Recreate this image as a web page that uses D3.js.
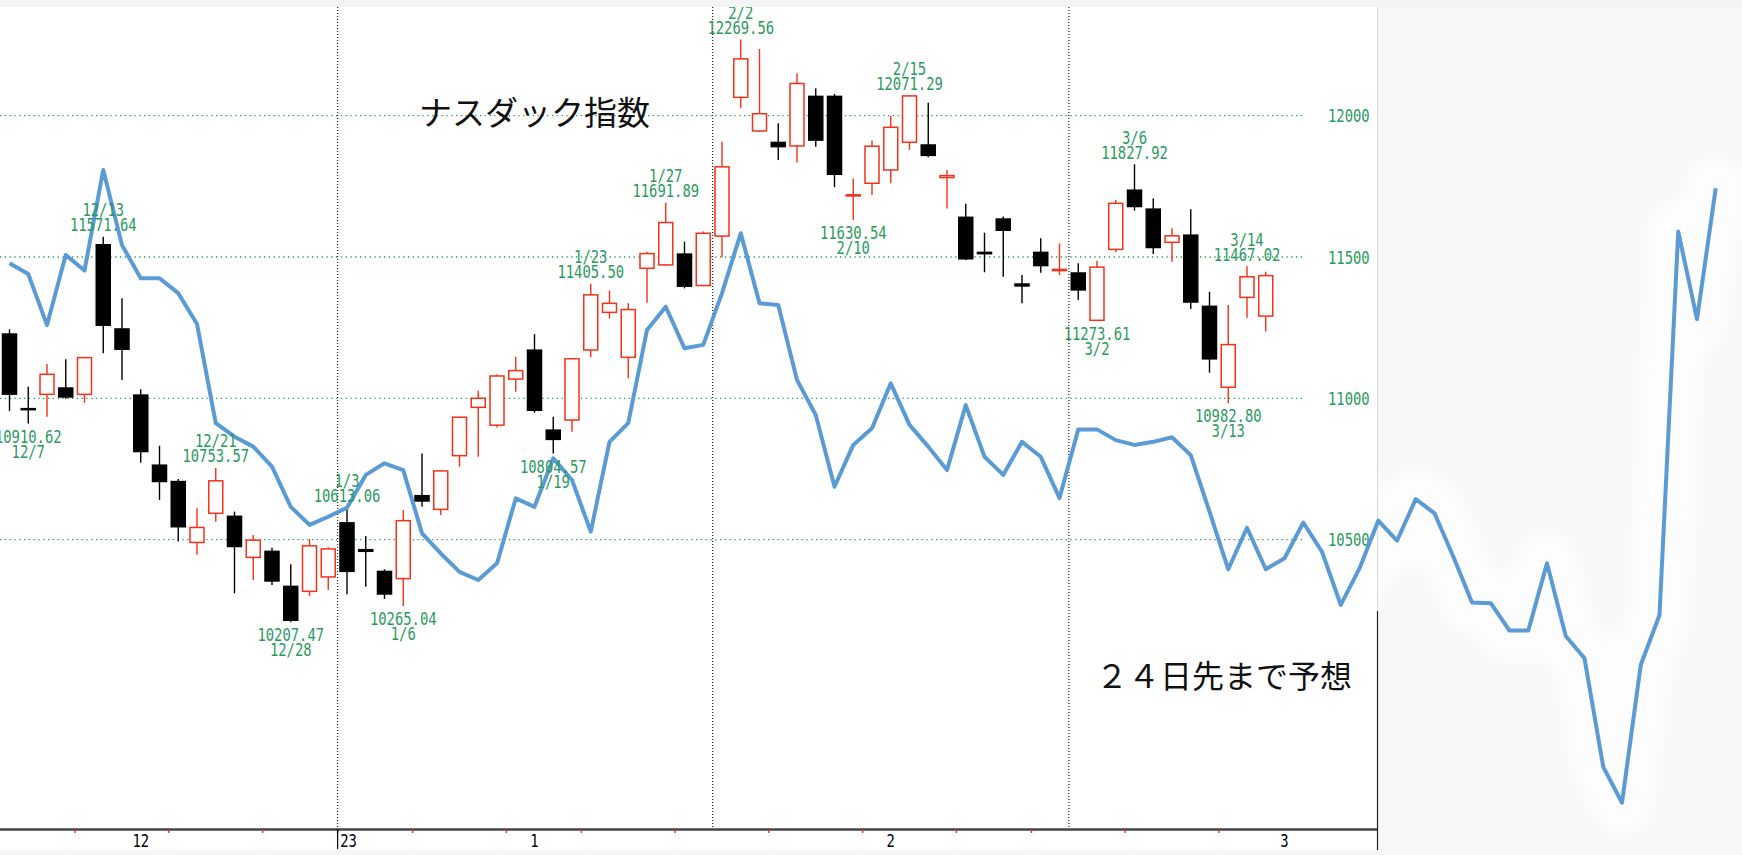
<!DOCTYPE html>
<html>
<head>
<meta charset="utf-8">
<script src="https://cdn.jsdelivr.net/npm/d3@7"></script>
<style>
  html, body { margin: 0; padding: 0; background: #f6f6f6; }
  svg { display: block; }
</style>
</head>
<body>
<svg id="nasdaq-chart" width="1742" height="855"></svg>
<script>
// Daily candles, Nasdaq Composite
const dates = [
  "2022-12-06","2022-12-07","2022-12-08","2022-12-09","2022-12-12","2022-12-13","2022-12-14","2022-12-15",
  "2022-12-16","2022-12-19","2022-12-20","2022-12-21","2022-12-22","2022-12-23","2022-12-27","2022-12-28",
  "2022-12-29","2022-12-30","2023-01-03","2023-01-04","2023-01-05","2023-01-06","2023-01-09","2023-01-10",
  "2023-01-11","2023-01-12","2023-01-13","2023-01-17","2023-01-18","2023-01-19","2023-01-20","2023-01-23",
  "2023-01-24","2023-01-25","2023-01-26","2023-01-27","2023-01-30","2023-01-31","2023-02-01","2023-02-02",
  "2023-02-03","2023-02-06","2023-02-07","2023-02-08","2023-02-09","2023-02-10","2023-02-13","2023-02-14",
  "2023-02-15","2023-02-16","2023-02-17","2023-02-21","2023-02-22","2023-02-23","2023-02-24","2023-02-27",
  "2023-02-28","2023-03-01","2023-03-02","2023-03-03","2023-03-06","2023-03-07","2023-03-08","2023-03-09",
  "2023-03-10","2023-03-13","2023-03-14","2023-03-15"
];
const open = [
  11230, 10966, 11014, 11039, 11014, 11546, 11248, 11014, 10766, 10708, 10490, 10593, 10585, 10437, 10461, 10337,
  10317, 10368, 10562, 10467, 10390, 10362, 10658, 10607, 10797, 10968, 10905, 11068, 11173, 10890, 10923, 11171,
  11304, 11145, 11460, 11472, 11513, 11399, 11574, 12065, 11946, 11908, 11893, 12071, 12071, 11716, 11761, 11808,
  11906, 11899, 11781, 11643, 11519, 11637, 11407, 11519, 11452, 11446, 11276, 11527, 11739, 11672, 11552, 11580,
  11328, 11039, 11357, 11291
];
const high = [
  11244, 11041, 11121, 11138, 11146, 11571.64, 11354, 11032, 10832, 10714, 10611, 10753.57, 10599, 10516, 10471, 10413,
  10502, 10473, 10613.06, 10513, 10395, 10605, 10805, 10745, 10934, 11027, 11085, 11147, 11227, 10935, 11142, 11405.50,
  11381, 11336, 11519, 11691.89, 11554, 11590, 11908, 12269.56, 12236, 11973, 12150, 12097, 12077, 11778, 11912, 12000,
  12071.29, 12046, 11808, 11688, 11586, 11643, 11436, 11566, 11548, 11478, 11487, 11702, 11827.92, 11708, 11602, 11669,
  11377, 11330, 11467.02, 11448
];
const low = [
  10955, 10910.62, 10935, 10998, 10984, 11159, 11065, 10772, 10640, 10493, 10446, 10563, 10310, 10357, 10339, 10207.47,
  10300, 10322, 10307, 10333, 10290, 10265.04, 10616, 10587, 10758, 10793, 10897, 11023, 10949, 10804.57, 10882, 11145,
  11282, 11071, 11338, 11469, 11389, 11397, 11499, 12026, 11944, 11843, 11834, 11890, 11747, 11630.54, 11719, 11761,
  11879, 11853, 11672, 11489, 11446, 11430, 11336, 11444, 11436, 11348, 11273.61, 11517, 11664, 11511, 11483, 11316,
  11091, 10982.80, 11285, 11236
];
const close = [
  11012, 10958, 11085, 11002, 11144, 11256, 11171, 10809, 10703, 10543, 10543, 10708, 10473, 10498, 10351, 10212,
  10478, 10467, 10385, 10456, 10305, 10567, 10634, 10743, 10933, 11000, 11079, 11098, 10955, 10852, 11140, 11366,
  11336, 11314, 11512, 11622, 11394, 11584, 11819, 12201, 12007, 11888, 12114, 11911, 11790, 11720, 11892, 11959,
  12070, 11857, 11788, 11491, 11509, 11592, 11395, 11467, 11456, 11381, 11464, 11690, 11676, 11531, 11575, 11338,
  11137, 11190, 11430, 11434
];

// 24 trading days ahead of the last candle
const forecastDates = [
  "2023-03-16","2023-03-17","2023-03-20","2023-03-21","2023-03-22","2023-03-23","2023-03-24","2023-03-27",
  "2023-03-28","2023-03-29","2023-03-30","2023-03-31","2023-04-03","2023-04-04","2023-04-05","2023-04-06",
  "2023-04-10","2023-04-11","2023-04-12","2023-04-13","2023-04-14","2023-04-17","2023-04-18","2023-04-19"
];

// blue prediction line, one value per day (candles + forecast days)
const trend = [
  11478, 11440, 11259, 11507, 11452, 11808, 11542, 11425, 11425, 11372,
  11263, 10912, 10864, 10829, 10758, 10616, 10552, 10581, 10613, 10729,
  10770, 10746, 10522, 10451, 10386, 10357, 10416, 10646, 10616, 10788,
  10711, 10528, 10846, 10912, 11242, 11324, 11177, 11189, 11372, 11584,
  11336, 11330, 11065, 10941, 10687, 10835, 10894, 11053, 10906, 10829,
  10746, 10976, 10793, 10729, 10846, 10793, 10647, 10890, 10890, 10852,
  10835, 10846, 10862, 10799, 10599, 10395, 10542, 10395, 10434, 10560,
  10457, 10269, 10398, 10567, 10496, 10643, 10593, 10440, 10277, 10275,
  10178, 10178, 10416, 10159, 10080, 9696, 9569, 10056, 10233, 11590,
  11280, 11743
];

const yTicks = [10500, 11000, 11500, 12000];
const monthTickDates = ["2022-12-15", "2023-01-18", "2023-02-14", "2023-03-16"];
const monthTickLabels = ["12", "1", "2", "3"];
const yearLabel = "23";

// candles annotated with their high / low
const highNotes = ["2022-12-13", "2022-12-21", "2023-01-03", "2023-01-23", "2023-01-27", "2023-02-02", "2023-02-15", "2023-03-06", "2023-03-14"];
const lowNotes = ["2022-12-07", "2022-12-28", "2023-01-06", "2023-01-19", "2023-02-10", "2023-03-02", "2023-03-13"];

const titleText = "ナスダック指数";
const forecastText = "２４日先まで予想";

(function () {
    const W = 1742, H = 855;
    const PLOT_R = 1377, TOP = 7, AXIS_Y = 829, WHITE_B = 850, GRID_R = 1305, EDGE_DARK = 611;
    const GREEN = "#2a9960", RED = "#f5311a", BLUE = "#5b9bd5";
    const svg = d3.select("#nasdaq-chart").attr("viewBox", `0 0 ${W} ${H}`);

    const parse = d3.timeParse("%Y-%m-%d");
    const fmtMD = d3.timeFormat("%-m/%-d");
    const allDates = dates.concat(forecastDates);
    const idx = d => allDates.indexOf(d);

    const x = d3.scaleLinear().domain([0, allDates.length - 1]).range([9.5, 1715.75]);
    const y = d3.scaleLinear().domain([10500, 12000]).range([539.6, 115.7]);

    const candles = dates.map((d, i) => ({
        i, date: parse(d), o: open[i], h: high[i], l: low[i], c: close[i]
    }));

    // narrow mono digits like the original terminal font
    function mono(sel, px, py, str, anchor, fill) {
        return sel.append("text")
            .attr("transform", `translate(${px},${py}) scale(0.77,1)`)
            .attr("text-anchor", anchor)
            .attr("font-family", "'DejaVu Sans Mono', monospace")
            .attr("font-size", 18)
            .attr("fill", fill)
            .text(str);
    }

    const defs = svg.append("defs");
    defs.append("filter").attr("id", "halo-blur")
        .attr("x", "-20%").attr("y", "-20%").attr("width", "140%").attr("height", "140%")
        .append("feGaussianBlur").attr("stdDeviation", 9);
    defs.append("clipPath").attr("id", "outside-plot")
        .append("rect").attr("x", PLOT_R + 1).attr("y", 0).attr("width", W).attr("height", H);

    // backgrounds
    svg.append("rect").attr("width", W).attr("height", H).attr("fill", "#f7f7f7");
    svg.append("rect").attr("x", 0).attr("y", TOP).attr("width", PLOT_R).attr("height", WHITE_B - TOP).attr("fill", "#fff");
    // right edge of the chart: faint up top, dark near the bottom
    svg.append("line")
        .attr("x1", PLOT_R + 0.5).attr("x2", PLOT_R + 0.5).attr("y1", TOP).attr("y2", EDGE_DARK)
        .attr("stroke", "#d8d8d8").attr("stroke-width", 1);
    svg.append("line")
        .attr("x1", PLOT_R + 0.5).attr("x2", PLOT_R + 0.5).attr("y1", EDGE_DARK).attr("y2", WHITE_B)
        .attr("stroke", "#222").attr("stroke-width", 1.2);

    // horizontal dotted grid
    svg.append("g").selectAll("line").data(yTicks).join("line")
        .attr("x1", 0).attr("x2", GRID_R)
        .attr("y1", d => y(d)).attr("y2", d => y(d))
        .attr("stroke", GREEN).attr("stroke-width", 1.3)
        .attr("stroke-dasharray", "1.3,3.5");

    // month separators and week boundaries
    const monthBreaks = [];
    const weekBreaks = [];
    candles.forEach((d, i) => {
        if (i === 0) return;
        const p = candles[i - 1].date;
        if (d.date.getMonth() !== p.getMonth()) monthBreaks.push({ at: i - 0.5, year: d.date.getFullYear() !== p.getFullYear() });
        if (d.date.getDay() < p.getDay()) weekBreaks.push(i - 0.5);
    });
    svg.append("g").selectAll("line").data(monthBreaks).join("line")
        .attr("x1", d => x(d.at)).attr("x2", d => x(d.at))
        .attr("y1", TOP).attr("y2", AXIS_Y)
        .attr("stroke", "#222").attr("stroke-width", 1.2)
        .attr("stroke-dasharray", "1,2");

    // right price labels
    const gY = svg.append("g");
    yTicks.forEach(t => mono(gY, 1328, y(t) + 6.5, String(t), "start", GREEN));

    // candles
    const bw = 15.5;
    const gC = svg.append("g");
    gC.selectAll("line").data(candles).join("line")
        .attr("x1", d => x(d.i)).attr("x2", d => x(d.i))
        .attr("y1", d => y(d.h)).attr("y2", d => y(d.l))
        .attr("stroke", d => d.c >= d.o ? RED : "#000")
        .attr("stroke-width", 1.4);
    gC.selectAll("rect").data(candles).join("rect")
        .attr("x", d => x(d.i) - (d.c >= d.o ? (bw - 1.5) / 2 : bw / 2))
        .attr("width", d => d.c >= d.o ? bw - 1.5 : bw)
        .attr("y", d => Math.min(y(d.o), y(d.c)))
        .attr("height", d => Math.max(Math.abs(y(d.o) - y(d.c)), d.c >= d.o ? 1 : 2.5))
        .attr("fill", d => d.c >= d.o ? "#fff" : "#000")
        .attr("stroke", d => d.c >= d.o ? RED : "none")
        .attr("stroke-width", 1.5);

    // prediction line, with the soft white glow over the forecast part
    const line = d3.line().x((d, i) => x(i)).y(d => y(d));
    const last = dates.length - 1;
    svg.append("path")
        .attr("clip-path", "url(#outside-plot)")
        .attr("d", d3.line().x(d => x(d.i)).y(d => y(d.v))(trend.map((v, i) => ({ i, v })).slice(last - 1)))
        .attr("fill", "none").attr("stroke", "#fff").attr("stroke-width", 64)
        .attr("stroke-linejoin", "round").attr("stroke-linecap", "round")
        .attr("opacity", 0.8).attr("filter", "url(#halo-blur)");
    svg.append("path")
        .attr("d", line(trend))
        .attr("fill", "none").attr("stroke", BLUE).attr("stroke-width", 4)
        .attr("stroke-linejoin", "round");

    // high / low annotations
    const gN = svg.append("g");
    highNotes.forEach(s => {
        const d = candles[idx(s)];
        mono(gN, x(d.i), y(d.h) - 20.5, fmtMD(d.date), "middle", GREEN);
        mono(gN, x(d.i), y(d.h) - 5.5, d.h.toFixed(2), "middle", GREEN);
    });
    lowNotes.forEach(s => {
        const d = candles[idx(s)];
        mono(gN, x(d.i), y(d.l) + 19, d.l.toFixed(2), "middle", GREEN);
        mono(gN, x(d.i), y(d.l) + 34, fmtMD(d.date), "middle", GREEN);
    });

    // bottom time axis
    const gX = svg.append("g");
    gX.append("line")
        .attr("x1", 0).attr("x2", PLOT_R).attr("y1", AXIS_Y + 0.5).attr("y2", AXIS_Y + 0.5)
        .attr("stroke", "#444").attr("stroke-width", 2.3);
    gX.selectAll("line.wk").data(weekBreaks).join("line").attr("class", "wk")
        .attr("x1", d => x(d)).attr("x2", d => x(d))
        .attr("y1", AXIS_Y + 1.5).attr("y2", AXIS_Y + 4)
        .attr("stroke", RED).attr("stroke-width", 1.5);
    monthBreaks.filter(d => d.year).forEach(d => {
        gX.append("line")
            .attr("x1", x(d.at)).attr("x2", x(d.at)).attr("y1", AXIS_Y).attr("y2", 849)
            .attr("stroke", "#000").attr("stroke-width", 1.2);
        mono(gX, x(d.at) + 2.5, 847, yearLabel, "start", "#000");
    });
    monthTickDates.forEach((s, k) => mono(gX, x(idx(s)), 847, monthTickLabels[k], "middle", "#000"));

    // captions
    svg.append("text")
        .attr("x", 419).attr("y", 125)
        .attr("font-family", "'Noto Sans CJK JP', sans-serif")
        .attr("font-size", 33).attr("fill", "#111")
        .text(titleText);
    svg.append("text")
        .attr("x", 1096).attr("y", 688)
        .attr("font-family", "'Noto Sans CJK JP', sans-serif")
        .attr("font-size", 32).attr("fill", "#111")
        .text(forecastText);

    // thin grey strip along the top edge
    svg.append("rect").attr("width", W).attr("height", TOP).attr("fill", "#f4f4f4");
})();
</script>
</body>
</html>
